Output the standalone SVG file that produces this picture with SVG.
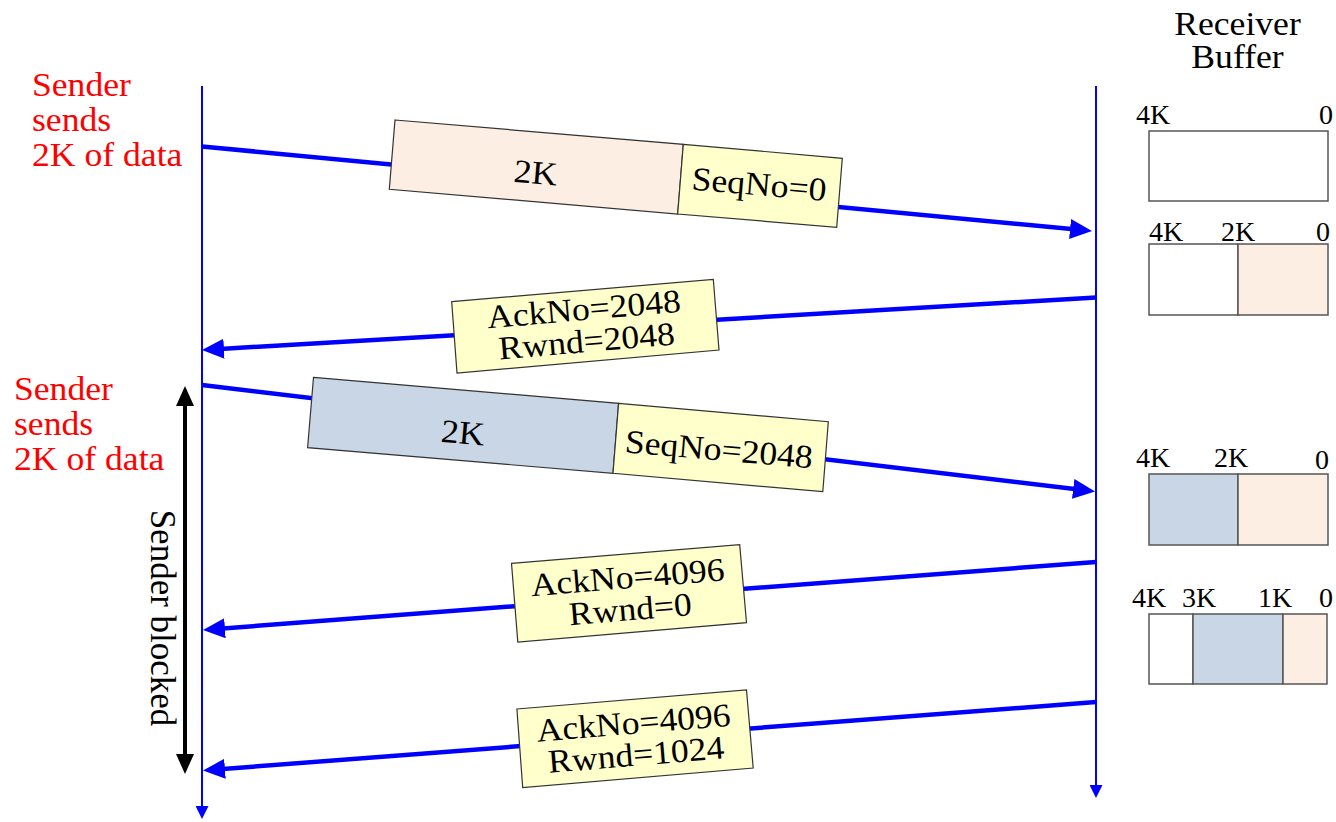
<svg xmlns="http://www.w3.org/2000/svg" width="1336" height="822" viewBox="0 0 1336 822">
<style>
text{font-family:"Liberation Serif","Times New Roman",serif;fill:#000}
.red{fill:#ff0000;font-size:33px}
.big{font-size:33px}
.vert{font-size:35px}
.lbl{font-size:28px}
.msg{stroke:#0000ff;stroke-width:4.5;fill:none;marker-end:url(#mh)}
.life{stroke:#0000ff;stroke-width:2;fill:none;marker-end:url(#vh)}
.pk{stroke:#333;stroke-width:1.2}
.peach{fill:#fdeee3}
.slate{fill:#c9d6e5}
.yel{fill:#ffffcc}
.buf{stroke:#555;stroke-width:1.5}
</style>
<defs>
<marker id="mh" viewBox="0 0 22 20" refX="12" refY="10" markerWidth="22" markerHeight="20" markerUnits="userSpaceOnUse" orient="auto"><path d="M0,0 L22,10 L0,20 z" fill="#0000ff"/></marker>
<marker id="vh" viewBox="0 0 13 13" refX="11" refY="6.5" markerWidth="13" markerHeight="13" markerUnits="userSpaceOnUse" orient="auto"><path d="M0,0 L13,6.5 L0,13 z" fill="#0000ff"/></marker>
<marker id="bh" viewBox="0 0 20 18" refX="10" refY="9" markerWidth="20" markerHeight="18" markerUnits="userSpaceOnUse" orient="auto-start-reverse"><path d="M0,0 L20,9 L0,18 z" fill="#000"/></marker>
</defs>
<rect width="1336" height="822" fill="#fff"/>

<g id="labels">
<text class="red" transform="translate(32,96) scale(1.08,1)">Sender</text>
<text class="red" transform="translate(32,131) scale(1.08,1)">sends</text>
<text class="red" transform="translate(32,166) scale(1.08,1)">2K of data</text>
<text class="red" transform="translate(14,400) scale(1.08,1)">Sender</text>
<text class="red" transform="translate(14,435) scale(1.08,1)">sends</text>
<text class="red" transform="translate(14,470) scale(1.08,1)">2K of data</text>
<text class="big" transform="translate(1237.5,35) scale(1.08,1)" text-anchor="middle">Receiver</text>
<text class="big" transform="translate(1237.5,68) scale(1.08,1)" text-anchor="middle">Buffer</text>
<text class="vert" transform="translate(151,618) rotate(90)" text-anchor="middle">Sender blocked</text>
</g>

<g id="connectors">
<line class="life" x1="202" y1="86" x2="202" y2="817"/>
<line class="life" x1="1096" y1="86" x2="1096" y2="796"/>
<line class="msg" x1="202" y1="146.5" x2="1082" y2="230.1"/>
<line class="msg" x1="1096" y1="297.5" x2="212" y2="349.4"/>
<line class="msg" x1="202" y1="385" x2="1085.1" y2="490.3"/>
<line class="msg" x1="1096" y1="562" x2="213" y2="629.2"/>
<line class="msg" x1="1096" y1="702" x2="213" y2="769.7"/>
<line x1="185" y1="396" x2="185" y2="764" stroke="#000" stroke-width="4" marker-start="url(#bh)" marker-end="url(#bh)"/>
</g>

<g id="packet1">
<polygon class="pk peach" points="395,120 683.3,144.3 677.7,214 389.3,189.3"/>
<polygon class="pk yel" points="683.3,144.3 842.3,158.3 836.7,227.3 677.7,214"/>
<text class="big" transform="translate(535.7,171.7) rotate(4.9) scale(1.08,1)" y="12" text-anchor="middle">2K</text>
<text class="big" transform="translate(759.3,183.3) rotate(4.9) scale(1.08,1)" y="12" text-anchor="middle">SeqNo=0</text>
</g>

<g id="ack1">
<polygon class="pk yel" points="451.7,301.7 713.3,279.3 719,350 457,373"/>
<text class="big" transform="translate(585.3,326) rotate(-4.9) scale(1.08,1)" y="-6" text-anchor="middle">AckNo=2048</text>
<text class="big" transform="translate(585.3,326) rotate(-4.9) scale(1.08,1)" y="26" text-anchor="middle">Rwnd=2048</text>
</g>

<g id="packet2">
<polygon class="pk slate" points="313.5,377.3 618.6,403.3 613,473.3 307.6,447.7"/>
<polygon class="pk yel" points="618.6,403.3 828.3,421.7 822.8,491.7 613,473.3"/>
<text class="big" transform="translate(463,431.7) rotate(4.93) scale(1.08,1)" y="12" text-anchor="middle">2K</text>
<text class="big" transform="translate(719,448.3) rotate(4.93) scale(1.08,1)" y="12" text-anchor="middle">SeqNo=2048</text>
</g>

<g id="ack2">
<polygon class="pk yel" points="511.5,563.3 739.7,544.7 746.5,622.7 517.8,642"/>
<text class="big" transform="translate(628.9,593.2) rotate(-4.7) scale(1.08,1)" y="-5" text-anchor="middle">AckNo=4096</text>
<text class="big" transform="translate(628.9,593.2) rotate(-4.7) scale(1.08,1)" y="27" text-anchor="middle">Rwnd=0</text>
</g>

<g id="ack3">
<polygon class="pk yel" points="516.9,709 746.5,690 753.2,768 522.7,787.7"/>
<text class="big" transform="translate(634.8,738.7) rotate(-4.7) scale(1.08,1)" y="-5" text-anchor="middle">AckNo=4096</text>
<text class="big" transform="translate(634.8,738.7) rotate(-4.7) scale(1.08,1)" y="27" text-anchor="middle">Rwnd=1024</text>
</g>

<g id="buffer1">
<rect class="buf" x="1149" y="131" width="179" height="70" fill="#fff"/>
<text class="lbl" x="1136" y="124">4K</text>
<text class="lbl" x="1333" y="124" text-anchor="end">0</text>
</g>

<g id="buffer2">
<rect class="buf" x="1149" y="244" width="89" height="71" fill="#fff"/>
<rect class="buf peach" x="1238" y="244" width="90" height="71"/>
<text class="lbl" x="1149" y="241">4K</text>
<text class="lbl" x="1238" y="241" text-anchor="middle">2K</text>
<text class="lbl" x="1330" y="241" text-anchor="end">0</text>
</g>

<g id="buffer3">
<rect class="buf slate" x="1149" y="474" width="89" height="71"/>
<rect class="buf peach" x="1238" y="474" width="90" height="71"/>
<text class="lbl" x="1136" y="467">4K</text>
<text class="lbl" x="1231" y="467" text-anchor="middle">2K</text>
<text class="lbl" x="1329" y="469" text-anchor="end">0</text>
</g>

<g id="buffer4">
<rect class="buf" x="1149" y="614" width="44" height="70" fill="#fff"/>
<rect class="buf slate" x="1193" y="614" width="90" height="70"/>
<rect class="buf peach" x="1283" y="614" width="44" height="70"/>
<text class="lbl" x="1132" y="607">4K</text>
<text class="lbl" x="1199" y="607" text-anchor="middle">3K</text>
<text class="lbl" x="1275" y="607" text-anchor="middle">1K</text>
<text class="lbl" x="1333" y="607" text-anchor="end">0</text>
</g>
</svg>
